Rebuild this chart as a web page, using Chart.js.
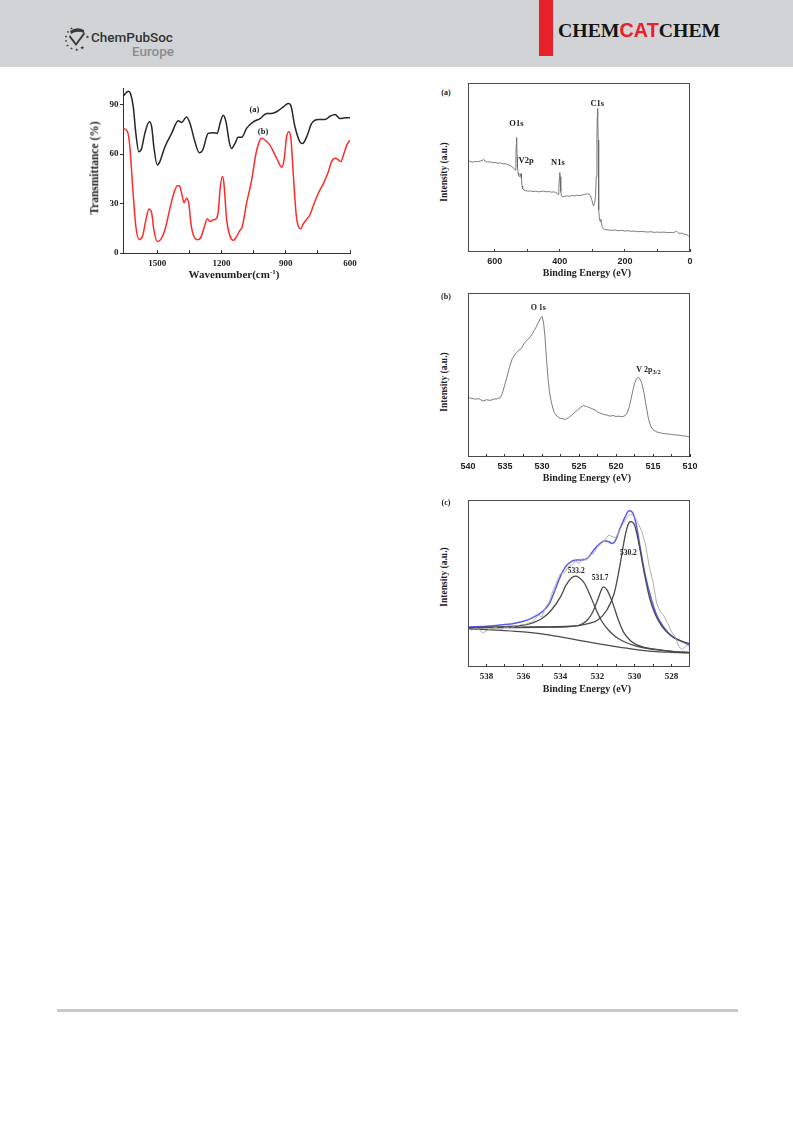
<!DOCTYPE html>
<html lang="en">
<head>
<meta charset="utf-8">
<title>IR and XPS spectra</title>
<script src="https://cdn.jsdelivr.net/npm/chart.js@4.4.1/dist/chart.umd.min.js"></script>
<style>
  html, body { margin:0; padding:0; background:#fff; }
  body { position:relative; width:793px; height:1121px; overflow:hidden; }
  canvas { position:absolute; }
  .lbl { position:absolute; white-space:nowrap; font-family:"Liberation Serif", serif; font-weight:bold; color:#222; line-height:1; transform:translate(-50%,-50%); }
  .rot { transform:translate(-50%,-50%) rotate(-90deg); }
  .lbl sup { font-size:7px; vertical-align:4px; line-height:0; }
  .rule { position:absolute; left:57px; top:1009px; width:681px; height:3px; background:#c8c8cc; }
</style>
</head>
<body>
<svg width="793" height="70" style="position:absolute;left:0;top:0">
  <defs>
    <symbol id="star" viewBox="-1 -1 2 2">
      <polygon points="0,-1 0.225,-0.309 0.951,-0.309 0.363,0.118 0.588,0.809 0,0.382 -0.588,0.809 -0.363,0.118 -0.951,-0.309 -0.225,-0.309"/>
    </symbol>
  </defs>
  <rect x="0" y="0" width="793" height="67" fill="#d2d3d7"/>
  <rect x="539" y="0" width="14" height="56" fill="#e8202a"/>
  <text x="558" y="36.7" font-family="Liberation Serif" font-weight="bold" font-size="19.8" fill="#151515">CHEM<tspan font-family="Liberation Sans" fill="#e8202a">CAT</tspan>CHEM</text>
  <g fill="#3a3a3a">
    <use href="#star" x="70" y="27" width="3" height="3"/>
    <use href="#star" x="66.5" y="30.5" width="3" height="3"/>
    <use href="#star" x="64.5" y="35" width="3" height="3"/>
    <use href="#star" x="64.5" y="39.5" width="3" height="3"/>
    <use href="#star" x="66" y="44" width="3" height="3"/>
    <use href="#star" x="70" y="47" width="3" height="3"/>
    <use href="#star" x="75" y="48" width="3.5" height="3.5"/>
    <use href="#star" x="80" y="45.5" width="4.5" height="4.5"/>
    <use href="#star" x="85.5" y="35" width="4" height="4"/>
    <path d="M70 31 Q77 26 84 30 L84 33 Q77 30 71 34 Z"/>
    <path d="M70 35 L76 43 L84 32 L85 34 L76 46 L69 37 Z"/>
  </g>
  <text x="91" y="41.7" font-family="Roboto" font-weight="500" font-size="13.5" fill="#333">ChemPubSoc</text>
  <text x="174" y="55.5" text-anchor="end" font-family="Roboto" font-weight="500" font-size="13.5" fill="#8c8c8c">Europe</text>
</svg>

<canvas id="ir"></canvas>
<canvas id="survey"></canvas>
<canvas id="o1sv2p"></canvas>
<canvas id="o1sfit"></canvas>

<div class="lbl" style="left:234px;top:274px;font-size:11px">Wavenumber(cm<sup>-1</sup>)</div>
<div class="lbl rot" style="left:95px;top:168px;font-size:11.5px">Transmittance (%)</div>

<div class="lbl" style="left:446px;top:93px;font-size:8px">(a)</div>
<div class="lbl" style="left:587px;top:273px;font-size:10px">Binding Energy (eV)</div>
<div class="lbl rot" style="left:445px;top:172px;font-size:9.5px">Intensity (a.u.)</div>

<div class="lbl" style="left:446px;top:297px;font-size:8px">(b)</div>
<div class="lbl" style="left:587px;top:478px;font-size:10px">Binding Energy (eV)</div>
<div class="lbl rot" style="left:445px;top:382px;font-size:9.5px">Intensity (a.u.)</div>

<div class="lbl" style="left:446px;top:503px;font-size:8px">(c)</div>
<div class="lbl" style="left:587px;top:689px;font-size:10px">Binding Energy (eV)</div>
<div class="lbl rot" style="left:445px;top:577px;font-size:9.5px">Intensity (a.u.)</div>

<div class="rule"></div>

<script>
// ---------- FT-IR spectra (transmittance %) ----------
const irWavenumberA = [1660,1635,1625,1612,1600,1586,1573,1558,1537,1526,1516,1500,1488,1464,1433,1402,1386,1363,1347,1324,1304,1288,1262,1238,1220,1207,1192,1179,1164,1153,1137,1122,1106,1083,1052,1020,989,966,943,911,888,877,857,834,821,802,779,748,717,693,670,647,623,600];
const irTransA = [95,98,96.6,88.6,72.5,61.4,63.4,72.5,79.5,76.5,64.4,53.4,55.4,64.4,72.5,80.1,79.1,82.5,78.5,67.4,60.8,62.4,72.5,72.9,72.5,78.5,83.5,79.5,67.4,63.4,66.4,70.1,70.1,75.5,79.5,81.5,84.6,84.6,85.6,88.6,90.6,89.6,76.5,67.4,66.4,70.5,78.5,80.9,80.9,82.9,84.0,81.5,81.9,82];
const irWavenumberB = [1660,1639,1628,1615,1600,1584,1569,1553,1539,1526,1516,1500,1484,1464,1444,1425,1406,1397,1386,1375,1363,1353,1343,1332,1313,1298,1282,1266,1254,1238,1223,1215,1207,1196,1189,1176,1160,1145,1129,1117,1103,1083,1059,1039,1024,1013,997,974,950,935,919,908,896,885,876,865,852,841,830,818,802,787,767,748,725,701,686,670,654,643,628,615,600];
const irTransB = [75.5,73.5,64.4,40.3,16.1,8.1,10.1,20.1,26.6,24.2,14.1,7.0,8.1,14.1,25.2,35.2,40.7,40.7,36.2,30.6,33.2,30.2,18.1,11.1,8.1,9.1,15.1,20.7,19.1,20.1,21.1,25.2,38.3,46.3,42.3,20.1,10.1,7.7,10.1,13.1,16.1,30.2,44.3,60.4,67.4,69.5,68.5,65.4,59.4,55.4,51.9,56.4,70.5,73.5,69.5,48.3,24.2,16.1,14.7,17.7,20.5,23.2,30.2,36.2,41.9,49.3,55.4,57.4,56.4,55.4,60.4,65.4,68.5];
const irTicks = [600,750,900,1050,1200,1350,1500];
const irTickLabels = [1500,1200,900,600];
const irYTicks = [0,30,60,90];
const irCurveNames = ['(a)','(b)'];
const irNameX = [1046,1006];
const irNameY = [86.5,73.2];

// ---------- XPS survey ----------
const surveyEnergy = [682,675,668,660,652,645,638,634,630,622,614,606,598,590,582,574,566,558,550,545,540,537,535,534,533,532,531,530,528,526,524,522,520,519,518,516,514,510,505,498,490,482,474,466,458,450,442,434,426,418,412,408,405,403,401,400,399,397,395,392,385,378,370,362,354,346,338,330,322,315,310,306,302,299,297,295,292,290,288,286,285,284,283,282,281,280,278,276,274,272,270,266,260,250,240,230,220,210,200,190,180,170,160,150,140,130,120,110,100,90,80,70,60,50,45,42,39,35,30,25,20,15,10,6,3,0];
const surveyCounts = [53.8,53.6,53.2,53.6,53.4,53.8,54.2,54.8,53.8,53.2,53.4,52.8,53.0,52.5,52.7,52.1,52.3,51.5,50.9,50.1,49.3,48.5,54.4,63.3,67.8,65.2,56.4,50.1,46.6,45.2,44.6,45.0,45.9,46.4,43.6,39.1,37.5,36.7,36.3,36.0,36.1,35.8,36.0,35.6,35.8,36.0,35.6,35.8,35.4,35.6,35.2,34.8,34.0,37.7,44.6,47.0,44.6,35.8,33.2,32.6,33.0,33.2,33.0,33.4,33.2,33.6,33.4,33.8,34.2,34.4,34.2,33.2,31.2,28.9,27.5,27.9,29.9,33.8,44.6,66.2,80.0,84.9,82.9,66.2,42.6,25.0,19.1,18.1,19.4,17.1,15.1,13.8,13.2,13.0,12.8,13.0,12.6,12.8,12.4,12.6,12.2,12.4,12.0,12.2,12.0,11.8,12.0,11.6,11.8,11.6,11.8,11.4,11.6,11.4,12.0,12.4,11.8,11.2,11.0,11.2,10.8,10.4,10.2,9.8,9.2,8.1];
const surveyTicks = [0,100,200,300,400,500,600];
const surveyTickLabels = [600,400,200,0];
const surveyPeakNames = ['O1s','V2p','N1s','C1s'];
const surveyPeakX = [533.3,503.6,406,285];
const surveyPeakY = [76.0,54.0,53.0,87.4];

// ---------- O 1s / V 2p region ----------
const regionEnergy = [540,539.5,539,538.5,538,537.5,537,536.5,536,535.6,535.3,535,534.7,534.4,534,533.6,533.2,532.8,532.4,532,531.6,531.2,530.8,530.5,530.2,530,529.8,529.6,529.4,529.2,529,528.7,528.4,528,527.6,527.2,526.8,526.4,526,525.6,525.2,524.8,524.4,524,523.6,523.2,522.8,522.4,522,521.6,521.2,520.8,520.4,520,519.6,519.2,518.8,518.5,518.2,518,517.8,517.5,517.2,517,516.8,516.5,516.2,515.9,515.6,515.3,515,514.5,514,513.5,513,512.5,512,511.5,511,510.5,510];
const regionCounts = [36.3,35.7,35.3,35.5,34.1,34.9,34.5,35.3,35.5,36.3,39.8,44.5,49.4,54.7,60.2,62.9,64.9,66.1,69.4,71.4,73.1,76.0,79.2,82.0,84.7,85.7,82.4,73.5,60.2,48.6,39.8,32.7,27.6,24.9,23.7,23.3,22.9,24.1,25.5,27.1,28.6,30.2,31.4,30.8,30.2,29.4,28.6,27.3,26.5,25.9,25.5,24.9,25.3,24.7,24.9,24.5,25.1,26.9,30.6,34.7,38.8,44.9,47.8,48.6,48.0,44.9,38.8,30.6,22.9,18.8,16.7,15.3,14.7,14.3,14.1,13.7,13.5,13.3,12.9,12.7,12.2];
const regionTicks = [510,512.5,515,517.5,520,522.5,525,527.5,530,532.5,535,537.5,540];
const regionTickLabels = [540,535,530,525,520,515,510];

// ---------- O 1s peak fitting ----------
const rawEnergy = [539,538.8,538.6,538.4,538.2,538,537.8,537.5,537.2,537,536.7,536.4,536.1,535.8,535.5,535.2,535,534.8,534.6,534.4,534.2,534,533.8,533.6,533.4,533.2,533,532.8,532.6,532.4,532.2,532,531.8,531.6,531.4,531.2,531,530.8,530.6,530.4,530.2,530,529.8,529.6,529.4,529.2,529,528.8,528.6,528.4,528.2,528,527.8,527.6,527.4,527.2,527];
const rawCounts = [23,22,23.4,22.4,20.4,21.6,22.8,23.6,22.4,24,23.2,25,24,26,27,31,30,36,39,46,51,56,56.4,59.6,61,63.6,62,65,64,67,68,72,74,76,79,78,77.6,82,86,89.6,91.6,90,86,81,73,60,51,38,33,30.4,26,21,18,12,10.4,13,12];
const envelopeEnergy = [539,538,537,536.4,536,535.5,535,534.6,534.3,534,533.7,533.4,533.1,532.8,532.5,532.2,531.9,531.6,531.4,531.2,531,530.8,530.5,530.3,530.1,529.9,529.7,529.4,529.1,528.8,528.4,528,527.5,527];
const envelopeCounts = [24,24.4,25.4,26.4,27.4,29.6,33,38,46,54.4,60.4,63.2,64,64,65.6,70,73.6,75.6,75,74,76.4,82.4,90,93.6,92.4,85,72,54,41,31,23.6,18.6,15.6,13];
const peak5332Energy = [539,537,536,535.5,535,534.5,534,533.7,533.4,533.2,533,532.7,532.4,532.1,531.8,531.4,531,530.5,530,529.5,529,528,527];
const peak5332Counts = [23.6,24.2,25,26.4,29,34,42,49,53.4,54.4,53.6,50,43,35,28,22,18,14.8,12.8,11.4,10.6,9.4,8.6];
const peak5317Energy = [539,537,535,533.5,533,532.6,532.3,532,531.8,531.7,531.5,531.2,530.9,530.6,530.2,529.8,529,528,527];
const peak5317Counts = [23.6,23.8,24,24.4,25,27.6,32,40,46,48,46.4,39,29,21,15.6,13,10.8,9.4,8.6];
const peak5302Energy = [539,537,535,533.5,532.5,532,531.5,531.1,530.8,530.5,530.3,530.2,530,529.8,529.5,529.2,528.9,528.5,528,527.5,527];
const peak5302Counts = [23.4,23.6,23.8,24.2,26,28,34,44,60,79,86.4,87,85,76,58,42,32,24,18.6,15.6,14];
const backgroundEnergy = [539,538,537,536,535,534,533,532,531,530,529,528,527];
const backgroundCounts = [22.8,22.4,21.8,21,19.8,18,16,14,12.2,10.6,9.4,8.8,8.4];
const fitTicks = [528,529,530,531,532,533,534,535,536,537,538];
const fitTickLabels = [538,536,534,532,530,528];
const fitPeakNames = ['533.2','531.7','530.2'];
const fitPeakX = [533.15,531.86,530.33];
const fitPeakY = [57.4,53.0,68.4];

// ---------- helpers ----------
const pts = (xs, ys) => xs.map((x, i) => ({ x: x, y: ys[i] }));
const SERIF = '"Liberation Serif", "Times New Roman", serif';
const SANS = '"Liberation Sans", Arial, sans-serif';

function line(xs, ys, color, width, smooth) {
  return {
    data: pts(xs, ys), borderColor: color, borderWidth: width, pointRadius: 0,
    fill: false, tension: smooth ? 0.4 : 0, cubicInterpolationMode: smooth ? 'monotone' : 'default'
  };
}

// box outline around the plotting area
const framePlugin = {
  id: 'frame',
  afterDatasetsDraw(chart, args, o) {
    if (!o || !o.show) return;
    const a = chart.chartArea, ctx = chart.ctx;
    ctx.save();
    ctx.strokeStyle = '#4a4a4a';
    ctx.lineWidth = 1;
    const l = Math.round(a.left) + 0.5, t = Math.round(a.top) + 0.5;
    const r = Math.round(a.right) - 0.5, b = Math.round(a.bottom) - 0.5;
    ctx.strokeRect(l, t, r - l, b - t);
    ctx.restore();
  }
};

// text annotations placed in data coordinates (sub = subscript part)
function makeTextPlugin(names, xs, ys, font, subFont, subs) {
  return {
    id: 'peakText',
    afterDatasetsDraw(chart) {
      const ctx = chart.ctx, sx = chart.scales.x, sy = chart.scales.y;
      ctx.save();
      ctx.fillStyle = '#222';
      ctx.textBaseline = 'middle';
      ctx.textAlign = 'left';
      names.forEach((txt, i) => {
        const px = sx.getPixelForValue(xs[i]), py = sy.getPixelForValue(ys[i]);
        const sub = subs ? subs[i] : '';
        ctx.font = font;
        const w = ctx.measureText(txt).width;
        let sw = 0;
        if (sub) { ctx.font = subFont; sw = ctx.measureText(sub).width; }
        const x0 = px - (w + sw) / 2;
        ctx.font = font;
        ctx.fillText(txt, x0, py);
        if (sub) { ctx.font = subFont; ctx.fillText(sub, x0 + w, py + 2.5); }
      });
      ctx.restore();
    }
  };
}

function panel(id, box, area, cfg) {
  const cv = document.getElementById(id);
  cv.width = box.w; cv.height = box.h;
  cv.style.left = box.x + 'px'; cv.style.top = box.y + 'px';
  cv.style.width = box.w + 'px'; cv.style.height = box.h + 'px';
  const yW = area.l - box.x, xH = box.y + box.h - area.b;
  const yScale = {
    type: 'linear', min: cfg.yMin, max: cfg.yMax,
    afterFit: s => { s.width = yW; s.paddingTop = 0; s.paddingBottom = 0; },
    ticks: { display: !!cfg.yTicks, padding: 1.5, color: '#222', font: cfg.tickFont },
    grid: { drawOnChartArea: false, drawTicks: !!cfg.yTicks, tickLength: 3, tickColor: '#333', tickWidth: 1 },
    border: { display: !cfg.frame, color: '#333', width: 1 }
  };
  if (cfg.yTicks) yScale.afterBuildTicks = s => { s.ticks = cfg.yTicks.map(v => ({ value: v })); };
  return new Chart(cv, {
    type: 'line',
    data: { datasets: cfg.datasets },
    options: {
      responsive: false, animation: false, devicePixelRatio: 1, events: [],
      layout: { padding: { left: 0, bottom: 0, top: area.t - box.y, right: box.x + box.w - area.r } },
      plugins: { legend: { display: false }, tooltip: { enabled: false }, frame: { show: cfg.frame } },
      scales: {
        x: {
          type: 'linear', reverse: true, min: cfg.xMin, max: cfg.xMax,
          afterBuildTicks: s => { s.ticks = cfg.xTicks.map(v => ({ value: v })); },
          afterFit: s => { s.height = xH; s.paddingLeft = 0; s.paddingRight = 0; },
          ticks: {
            autoSkip: false, maxRotation: 0, minRotation: 0, padding: cfg.xPad, color: '#222', font: cfg.tickFont,
            callback: v => cfg.xLabels.includes(v) ? String(v) : ''
          },
          grid: { drawOnChartArea: false, drawTicks: true, tickLength: -3, tickColor: '#333', tickWidth: 1 },
          border: { display: !cfg.frame, color: '#333', width: 1 }
        },
        y: yScale
      }
    },
    plugins: [framePlugin, makeTextPlugin(cfg.names, cfg.nameX, cfg.nameY, cfg.nameFont, cfg.subFont, cfg.subs)]
  });
}

// FT-IR
panel('ir', { x: 80, y: 78, w: 285, h: 200 }, { l: 123, t: 88, r: 350, b: 253 }, {
  xMin: 600, xMax: 1660, yMin: 0, yMax: 100, frame: false,
  xTicks: irTicks, xLabels: irTickLabels, yTicks: irYTicks, xPad: 8.6,
  tickFont: { family: SERIF, size: 9, weight: 'bold' },
  datasets: [
    line(irWavenumberA, irTransA, '#262626', 1.5, true),
    line(irWavenumberB, irTransB, '#ff2b2b', 1.5, true)
  ],
  names: irCurveNames, nameX: irNameX, nameY: irNameY, nameFont: 'bold 8.5px ' + SERIF
});

// Survey
panel('survey', { x: 455, y: 76, w: 245, h: 200 }, { l: 468, t: 83, r: 690, b: 252 }, {
  xMin: 0, xMax: 682, yMin: 0, yMax: 100, frame: true,
  xTicks: surveyTicks, xLabels: surveyTickLabels, xPad: 7.5,
  tickFont: { family: SANS, size: 9, weight: 'bold' },
  datasets: [ line(surveyEnergy, surveyCounts, '#666666', 0.85, false) ],
  names: surveyPeakNames, nameX: surveyPeakX, nameY: surveyPeakY, nameFont: 'bold 8.5px ' + SERIF
});

// O 1s + V 2p region
panel('o1sv2p', { x: 455, y: 286, w: 245, h: 190 }, { l: 468, t: 293, r: 690, b: 457 }, {
  xMin: 510, xMax: 540, yMin: 0, yMax: 100, frame: true,
  xTicks: regionTicks, xLabels: regionTickLabels, xPad: 7.2,
  tickFont: { family: SANS, size: 9, weight: 'bold' },
  datasets: [ line(regionEnergy, regionCounts, '#666666', 0.85, false) ],
  names: ['O 1s', 'V 2p'], nameX: [530.5, 515.6], nameY: [90.8, 53.1], subs: ['', '3/2'],
  nameFont: 'bold 8px ' + SERIF, subFont: 'bold 6.5px ' + SERIF
});

// O 1s deconvolution
panel('o1sfit', { x: 455, y: 493, w: 245, h: 195 }, { l: 468, t: 500, r: 690, b: 667 }, {
  xMin: 527, xMax: 539, yMin: 0, yMax: 100, frame: true,
  xTicks: fitTicks, xLabels: fitTickLabels, xPad: 6.9,
  tickFont: { family: SERIF, size: 9, weight: 'bold' },
  datasets: [
    line(rawEnergy, rawCounts, '#a8a8a8', 0.9, false),
    line(backgroundEnergy, backgroundCounts, '#4a4a4a', 1.3, true),
    line(peak5332Energy, peak5332Counts, '#4a4a4a', 1.3, true),
    line(peak5317Energy, peak5317Counts, '#4a4a4a', 1.3, true),
    line(peak5302Energy, peak5302Counts, '#4a4a4a', 1.3, true),
    line(envelopeEnergy, envelopeCounts, '#5b5bef', 1.5, true)
  ],
  names: fitPeakNames, nameX: fitPeakX, nameY: fitPeakY, nameFont: 'bold 7.5px ' + SERIF
});
</script>
</body>
</html>
